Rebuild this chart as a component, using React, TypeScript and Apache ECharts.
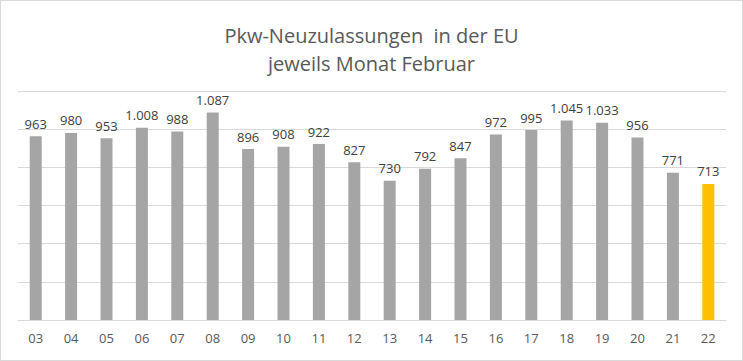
import React, { useEffect, useRef } from "react";
import * as echarts from "echarts";

const categories = ["03","04","05","06","07","08","09","10","11","12","13","14","15","16","17","18","19","20","21","22"];
const values = [963, 980, 953, 1008, 988, 1087, 896, 908, 922, 827, 730, 792, 847, 972, 995, 1045, 1033, 956, 771, 713];
const titleLines = ["Pkw-Neuzulassungen  in der EU", "jeweils Monat Februar"];

const GRAY = "#a5a5a5";
const YELLOW = "#ffc000";

export default function App() {
  const ref = useRef<HTMLDivElement>(null);
  useEffect(() => {
    document.body.style.margin = "0";
    const chart = echarts.init(ref.current!, null, { renderer: "svg" });
    const fmt = (v: number) => v.toString().replace(/\B(?=(\d{3})+(?!\d))/g, ".");
    chart.setOption({
      animation: false,
      backgroundColor: "#ffffff",
      title: {
        text: titleLines.join("\n"),
        left: "center",
        top: 15,
        textStyle: {
          fontFamily: "Open Sans",
          fontSize: 20,
          fontWeight: "normal",
          color: "#595959",
          lineHeight: 28,
        },
      },
      grid: { left: 17, right: 16, top: 90, bottom: 40, containLabel: false },
      xAxis: {
        type: "category",
        data: categories,
        axisLine: { lineStyle: { color: "#d9d9d9" } },
        axisTick: { show: false },
        axisLabel: { color: "#595959", fontSize: 13, fontFamily: "Open Sans", margin: 11 },
      },
      yAxis: {
        type: "value",
        min: 0,
        max: 1200,
        interval: 200,
        axisLabel: { show: false },
        axisLine: { show: false },
        axisTick: { show: false },
        splitLine: { lineStyle: { color: "#d9d9d9" } },
      },
      series: [
        {
          type: "bar",
          barWidth: 12,
          data: values.map((v, i) => ({
            value: v,
            itemStyle: { color: i === values.length - 1 ? YELLOW : GRAY },
          })),
          label: {
            show: true,
            position: "top",
            distance: 6,
            color: "#404040",
            fontSize: 13,
            fontFamily: "Open Sans",
            formatter: (p: any) => fmt(p.value),
          },
        },
      ],
    });
    return () => chart.dispose();
  }, []);
  return (
    <div
      style={{
        position: "fixed",
        left: 0,
        top: 0,
        width: 743,
        height: 361,
        boxSizing: "border-box",
        border: "1px solid #d9d9d9",
        background: "#fff",
      }}
    >
      <div ref={ref} style={{ width: 741, height: 359 }} />
    </div>
  );
}
